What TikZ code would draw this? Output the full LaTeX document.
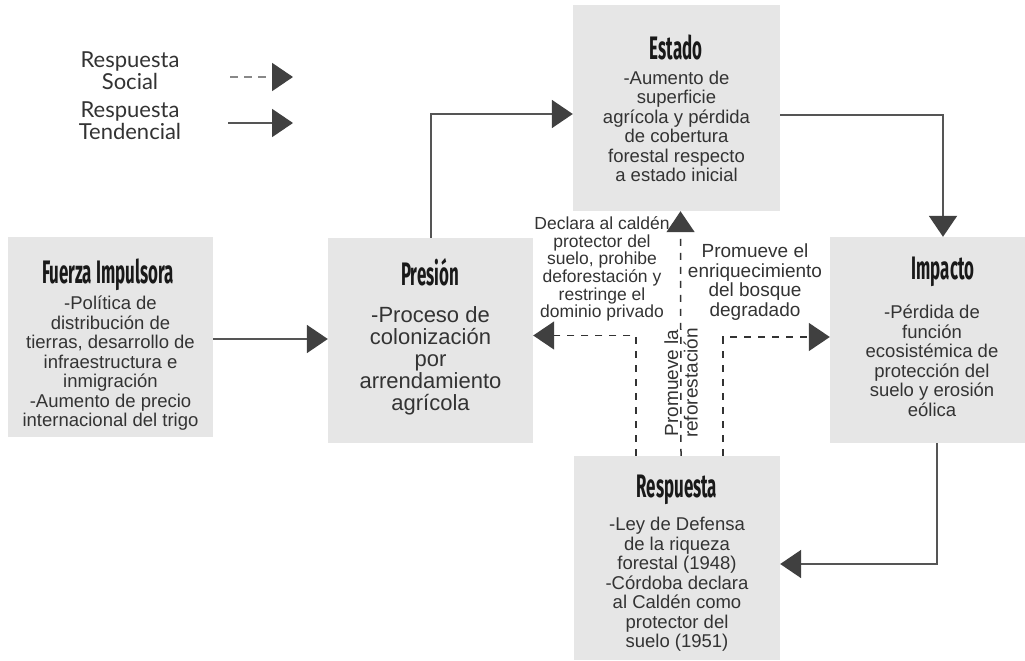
\documentclass[tikz,border=0pt]{standalone}
\usepackage{fontspec}
\usetikzlibrary{arrows.meta}
\newfontfamily\bodyfont{Liberation Sans}
\newfontfamily\legfont{Lato}
\newfontfamily\titlefont[FakeStretch=0.52]{Fira Sans}
\definecolor{boxfill}{HTML}{E6E6E6}
\definecolor{txt}{HTML}{333333}
\definecolor{tipc}{HTML}{404040}
\definecolor{linec}{HTML}{555555}
\definecolor{dashc}{HTML}{333333}
\definecolor{legdash}{HTML}{888888}
\tikzset{
  box/.style={fill=boxfill, draw=none, inner sep=0pt},
  ttl/.style={font=\titlefont\bfseries\fontsize{32.5}{32}\selectfont, text=black!90, inner sep=0pt},
  body/.style={font=\bodyfont\fontsize{18.5}{19.5}\selectfont, align=center, text=txt, inner sep=0pt},
  bigbody/.style={font=\bodyfont\fontsize{22}{22}\selectfont, align=center, text=txt, inner sep=0pt},
  lbl/.style={font=\bodyfont\fontsize{17.5}{17.6}\selectfont, align=center, text=txt, inner sep=0pt},
  lblb/.style={font=\bodyfont\fontsize{19}{19.5}\selectfont, align=center, text=txt, inner sep=0pt},
  leg/.style={font=\legfont\fontsize{22}{22}\selectfont, align=center, text=txt, inner sep=0pt},
  tend/.style={draw=linec, line width=2pt, -{Triangle[length=21pt,width=28pt,color=tipc]}},
  soc/.style={draw=dashc, line width=1.5pt, dash pattern=on 7pt off 7pt, -{Triangle[length=21pt,width=28pt,color=tipc]}},
  legsoc/.style={draw=legdash, line width=2pt, dash pattern=on 8pt off 6pt, -{Triangle[length=21pt,width=28pt,color=tipc]}},
}
\begin{document}
\begin{tikzpicture}[x=1pt,y=-1pt]
\useasboundingbox (0,0) rectangle (1025,661);
% boxes
\node[box, minimum width=205pt, minimum height=200pt] (fi) at (110.5,337) {};
\node[box, minimum width=205pt, minimum height=205pt] (pr) at (430.5,340.5) {};
\node[box, minimum width=207pt, minimum height=206pt] (es) at (676.5,108) {};
\node[box, minimum width=204pt, minimum height=206pt] (im) at (932,340) {};
\node[box, minimum width=206pt, minimum height=204pt] (re) at (677,558) {};
% titles
\node[ttl] (fit) at (108,275) {Fuerza Impulsora};
\node[ttl] (prt) at (430,272) {Presión};
\node[ttl] (est) at (676,47) {Estado};
\node[ttl] (imt) at (943,272) {Impacto};
\node[ttl] (ret) at (677,490) {Respuesta};
% bodies
\node[body] (fib) at (110.5,363.5) {-Política de\\distribución de\\tierras, desarrollo de\\infraestructura e\\inmigración\\-Aumento de precio\\internacional del trigo};
\node[bigbody] (prb) at (430.5,361) {-Proceso de\\colonización\\por\\arrendamiento\\agrícola};
\node[body] (esb) at (676.5,126.5) {-Aumento de\\superficie\\agrícola y pérdida\\de cobertura\\forestal respecto\\a estado inicial};
\node[body] (imb) at (932,361) {-Pérdida de\\función\\ecosistémica de\\protección del\\suelo y erosión\\eólica};
\node[body] (reb) at (677,584.5) {-Ley de Defensa\\de la riqueza\\forestal (1948)\\-Córdoba declara\\al Caldén como\\protector del\\suelo (1951)};
% legend
\node[leg] (l1) at (130,71) {Respuesta\\Social};
\node[leg] (l2) at (130,121) {Respuesta\\Tendencial};
\coordinate (l1s) at (230,77);
\coordinate (l1e) at (293,77);
\coordinate (l2s) at (228,123);
\coordinate (l2e) at (293,123);
\draw[legsoc] (l1s) -- (l1e);
\draw[tend] (l2s) -- (l2e);
% tendencial connectors
\draw[tend] ([yshift=-2pt]fi.east) -- ([yshift=-2pt]fi.east -| pr.west);
\draw[tend] (pr.north) |- ([yshift=-6pt]es.west);
\draw[tend] ([yshift=-7pt]es.east) -| ([xshift=11pt]im.north);
\draw[tend] ([xshift=5pt]im.south) |- ([yshift=-6pt]re.east);
% social connectors
\draw[soc] ([xshift=-41pt]re.north) |- ([yshift=5pt]pr.east);
\draw[soc] ([xshift=4pt]re.north) -- ([xshift=4pt]es.south);
\draw[soc] ([xshift=46pt]re.north) |- ([yshift=3pt]im.west);
% labels
\node[lbl] (lab1) at (602,269) {Declara al caldén\\protector del\\suelo, prohibe\\deforestación y\\restringe el\\dominio privado};
\node[lblb] (lab2) at (755,282) {Promueve el\\enriquecimiento\\del bosque\\degradado};
\node[lblb, rotate=90] (lab3) at (681,383) {Promueve la\\reforestación};
\end{tikzpicture}
\end{document}
